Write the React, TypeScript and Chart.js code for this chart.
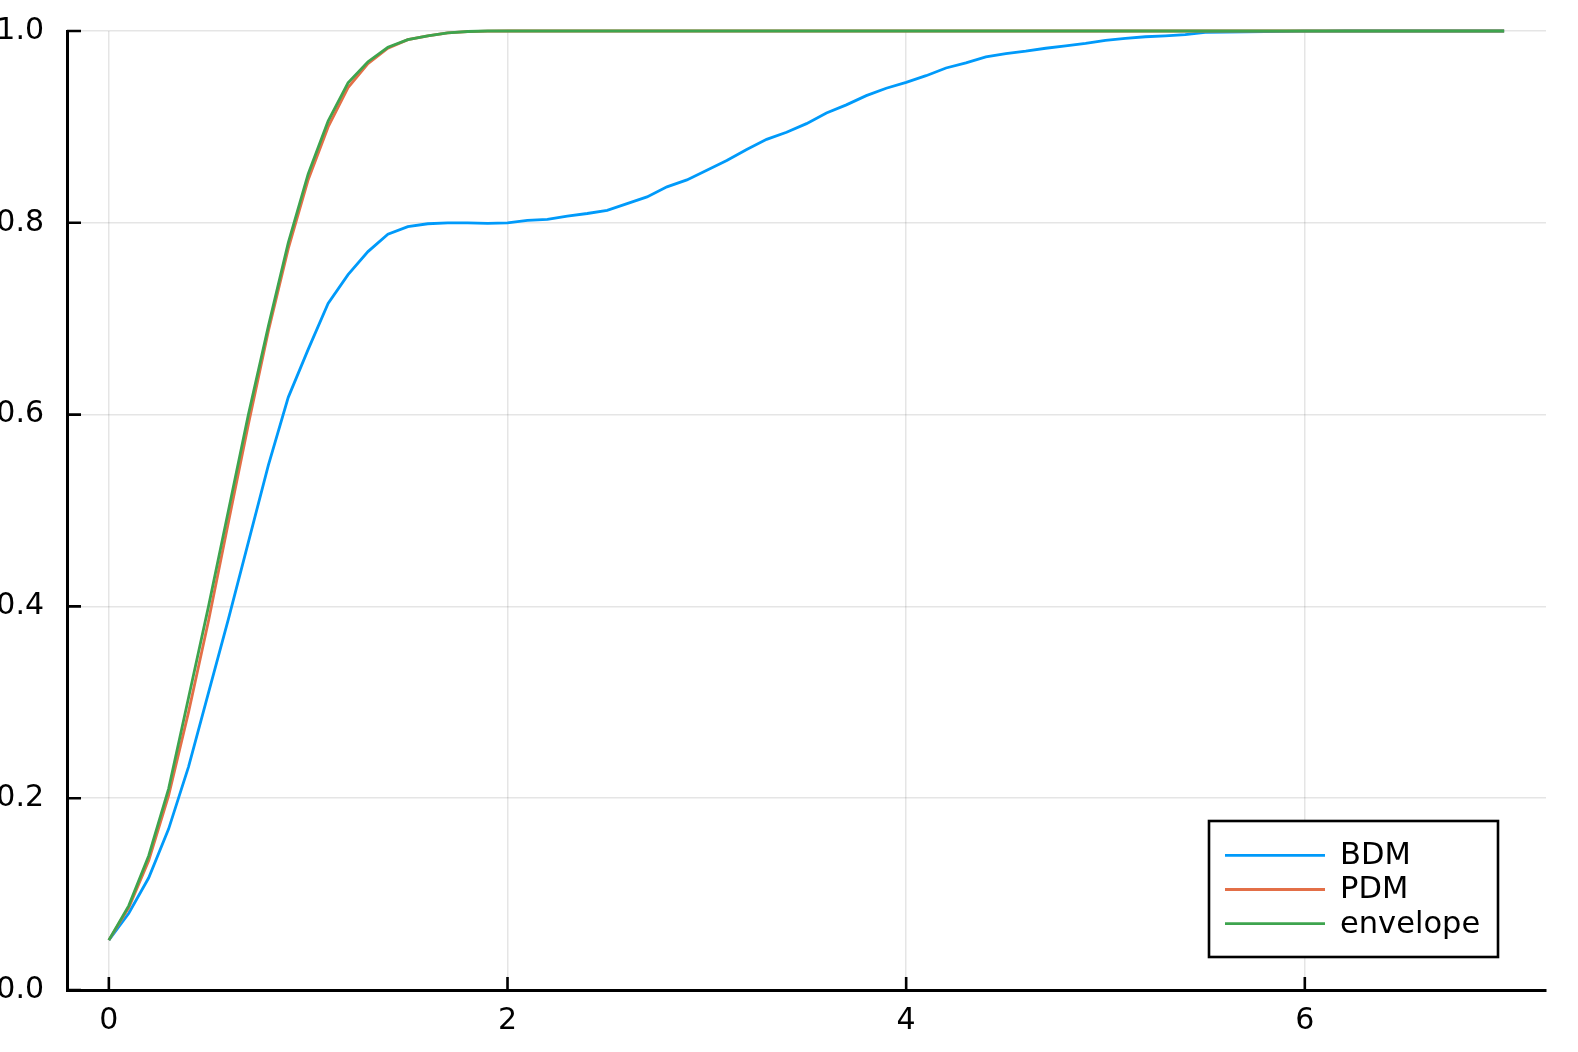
import React, { useEffect, useRef } from "react";
import { Chart, registerables } from "chart.js";

Chart.register(...registerables);

// x grid of the curves
const xValues = [
  0, 0.1, 0.2, 0.3, 0.4, 0.5, 0.6, 0.7, 0.8, 0.9,
  1, 1.1, 1.2, 1.3, 1.4, 1.5, 1.6, 1.7, 1.8, 1.9,
  2, 2.1, 2.2, 2.3, 2.4, 2.5, 2.6, 2.7, 2.8, 2.9,
  3, 3.1, 3.2, 3.3, 3.4, 3.5, 3.6, 3.7, 3.8, 3.9,
  4, 4.1, 4.2, 4.3, 4.4, 4.5, 4.6, 4.7, 4.8, 4.9,
  5, 5.1, 5.2, 5.3, 5.4, 5.5, 5.6, 5.7, 5.8, 5.9,
  6, 6.1, 6.2, 6.3, 6.4, 6.5, 6.6, 6.7, 6.8, 6.9,
  7,
];

const bdmValues = [
  0.052, 0.080, 0.117, 0.168, 0.233, 0.310, 0.387, 0.467, 0.547, 0.618,
  0.668, 0.716, 0.746, 0.770, 0.788, 0.796, 0.799, 0.800, 0.800, 0.7995,
  0.800, 0.8025, 0.8035, 0.807, 0.8097, 0.813, 0.820, 0.827, 0.8375, 0.8447,
  0.8548, 0.865, 0.8765, 0.887, 0.8944, 0.9034, 0.9145, 0.923, 0.9326, 0.9403,
  0.9465, 0.9534, 0.9614, 0.9667, 0.9729, 0.9765, 0.979, 0.982, 0.9845, 0.987,
  0.9903, 0.9922, 0.994, 0.995, 0.9962, 0.9985, 0.9988, 0.9992, 0.9994, 0.9996,
  0.9998, 0.9999, 1, 1, 1, 1, 1, 1, 1, 1,
  1,
];

const pdmValues = [
  0.052, 0.086, 0.135, 0.203, 0.290, 0.385, 0.488, 0.590, 0.687, 0.773,
  0.845, 0.900, 0.941, 0.966, 0.982, 0.991, 0.995, 0.998, 0.9993, 0.9998,
  1, 1, 1, 1, 1, 1, 1, 1, 1, 1,
  1, 1, 1, 1, 1, 1, 1, 1, 1, 1,
  1, 1, 1, 1, 1, 1, 1, 1, 1, 1,
  1, 1, 1, 1, 1, 1, 1, 1, 1, 1,
  1, 1, 1, 1, 1, 1, 1, 1, 1, 1,
  1,
];

const envelopeValues = [
  0.052, 0.088, 0.140, 0.210, 0.305, 0.400, 0.500, 0.600, 0.692, 0.779,
  0.851, 0.906, 0.946, 0.968, 0.983, 0.991, 0.995, 0.998, 0.9995, 1,
  1, 1, 1, 1, 1, 1, 1, 1, 1, 1,
  1, 1, 1, 1, 1, 1, 1, 1, 1, 1,
  1, 1, 1, 1, 1, 1, 1, 1, 1, 1,
  1, 1, 1, 1, 1, 1, 1, 1, 1, 1,
  1, 1, 1, 1, 1, 1, 1, 1, 1, 1,
  1,
];

const seriesNames = ["BDM", "PDM", "envelope"];
const seriesColors = ["#009AFA", "#E36F47", "#3EA44E"];

const xTickValues = [0, 2, 4, 6];
const yTickValues = [0, 0.2, 0.4, 0.6, 0.8, 1.0];

const FONT = "'DejaVu Sans', sans-serif";

const innerTicks = {
  id: "innerTicks",
  afterDraw(chart: any) {
    const ctx = chart.ctx;
    const ca = chart.chartArea;
    const xs = chart.scales.x;
    const ys = chart.scales.y;
    ctx.save();
    ctx.strokeStyle = "#000";
    ctx.lineWidth = 2.6;
    ctx.beginPath();
    xTickValues.forEach((v) => {
      const px = xs.getPixelForValue(v);
      ctx.moveTo(px, ca.bottom);
      ctx.lineTo(px, ca.bottom - 13);
    });
    yTickValues.forEach((v) => {
      const py = ys.getPixelForValue(v);
      ctx.moveTo(ca.left, py);
      ctx.lineTo(ca.left + 14, py);
    });
    ctx.stroke();
    ctx.restore();
  },
};

const boxLegend = {
  id: "boxLegend",
  afterDraw(chart: any) {
    const ctx = chart.ctx;
    const ca = chart.chartArea;
    const w = 289;
    const h = 136;
    const right = ca.right - 48;
    const bottom = ca.bottom - 33;
    const left = right - w;
    const top = bottom - h;
    ctx.save();
    ctx.fillStyle = "#fff";
    ctx.fillRect(left, top, w, h);
    ctx.strokeStyle = "#000";
    ctx.lineWidth = 2.6;
    ctx.strokeRect(left, top, w, h);
    ctx.font = `30.5px ${FONT}`;
    ctx.textBaseline = "middle";
    ctx.textAlign = "left";
    chart.data.datasets.forEach((ds: any, i: number) => {
      const y = top + 34.3 + i * 34.2;
      ctx.strokeStyle = ds.borderColor;
      ctx.lineWidth = ds.borderWidth;
      ctx.beginPath();
      ctx.moveTo(left + 16, y);
      ctx.lineTo(left + 116, y);
      ctx.stroke();
      ctx.fillStyle = "#000";
      ctx.fillText(ds.label, left + 131, y + 1);
    });
    ctx.restore();
  },
};

export default function App() {
  const canvasRef = useRef<HTMLCanvasElement | null>(null);

  useEffect(() => {
    const canvas = canvasRef.current;
    if (!canvas) return;
    const series = [bdmValues, pdmValues, envelopeValues];
    const chart = new Chart(canvas, {
      type: "line",
      data: {
        datasets: series.map((vals, i) => ({
          label: seriesNames[i],
          data: xValues.map((x, j) => ({ x, y: vals[j] })),
          borderColor: seriesColors[i],
          backgroundColor: seriesColors[i],
          borderWidth: 2.8,
          pointRadius: 0,
          tension: 0,
          fill: false,
          clip: false,
          order: 3 - i,
        })),
      },
      options: {
        animation: false,
        responsive: false,
        devicePixelRatio: 1,
        events: [],
        layout: { padding: { top: 31, right: 32, left: 0, bottom: 0 } },
        plugins: {
          legend: { display: false },
          tooltip: { enabled: false },
          title: { display: false },
        },
        scales: {
          x: {
            type: "linear",
            min: -0.21,
            max: 7.21,
            afterFit(s: any) {
              s.height = 62;
              s.paddingLeft = 0;
              s.paddingRight = 0;
            },
            afterBuildTicks(s: any) {
              s.ticks = xTickValues.map((v) => ({ value: v }));
            },
            grid: { color: "rgba(0,0,0,0.1)", lineWidth: 1.5, drawTicks: false },
            border: { display: true, color: "#000", width: 3 },
            ticks: {
              padding: 16,
              color: "#000",
              maxRotation: 0,
              autoSkip: false,
              font: { family: FONT, size: 30, lineHeight: 1 },
              callback: (v: any) => String(v),
            },
          },
          y: {
            type: "linear",
            min: 0,
            max: 1,
            afterFit(s: any) {
              s.width = 67;
              s.paddingTop = 0;
              s.paddingBottom = 0;
            },
            afterBuildTicks(s: any) {
              s.ticks = yTickValues.map((v) => ({ value: v }));
            },
            grid: { color: "rgba(0,0,0,0.1)", lineWidth: 1.5, drawTicks: false },
            border: { display: true, color: "#000", width: 3 },
            ticks: {
              padding: 23,
              color: "#000",
              autoSkip: false,
              font: { family: FONT, size: 30, lineHeight: 1 },
              callback: (v: any) => Number(v).toFixed(1),
            },
          },
        },
      } as any,
      plugins: [innerTicks, boxLegend],
    });
    return () => chart.destroy();
  }, []);

  return (
    <div
      style={{
        position: "absolute",
        left: 0,
        top: 0,
        width: 1578,
        height: 1052,
        background: "#fff",
        overflow: "hidden",
      }}
    >
      <canvas
        ref={canvasRef}
        width={1578}
        height={1052}
        style={{ width: 1578, height: 1052, display: "block" }}
      />
    </div>
  );
}
